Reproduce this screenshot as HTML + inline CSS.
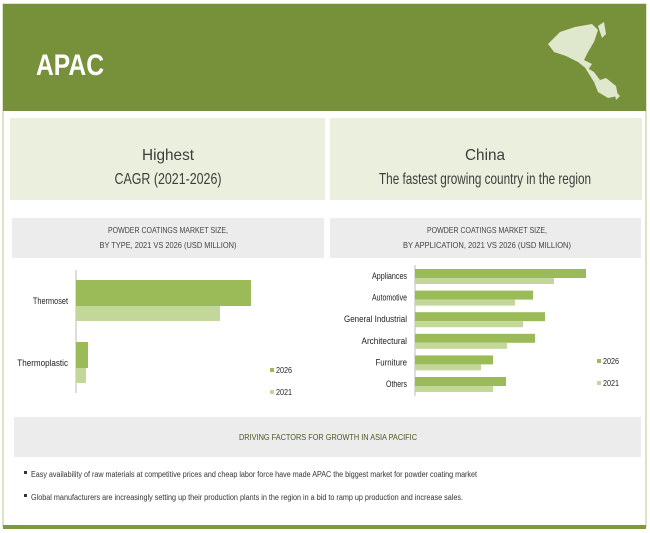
<!DOCTYPE html>
<html><head><meta charset="utf-8"><style>
body{margin:0;background:#fff;}
svg{display:block;font-family:"Liberation Sans",sans-serif;}
</style></head><body>
<svg id="s" width="650" height="533" viewBox="0 0 650 533">
<rect x="3" y="4" width="643" height="523" fill="#fff" stroke="#b8c98f" stroke-width="1"/>
<rect x="3" y="525" width="643" height="4" fill="#7d9a3e"/>
<rect x="3" y="4" width="643" height="107" fill="#77903a"/>
<text x="36" y="75" font-size="30" font-weight="bold" fill="#fff" textLength="68" lengthAdjust="spacingAndGlyphs">APAC</text>
<g fill="#dfe7cc">
<path d="M548 44 L560 32 L575 27 L592 24 L598 30 L594 42 L588 52 L584 60 L592 64 L588 70 L578 62 L566 56 L554 52 Z"/>
<path d="M584 66 L594 72 L600 80 L594 82 Z"/>
<path d="M594 82 L606 78 L616 86 L618 96 L608 98 L598 92 Z"/>
<path d="M614 90 L620 96 L616 100 Z"/>
<path d="M598 26 L604 22 L606 34 L602 38 Z"/>
</g>
<rect x="10" y="118" width="315" height="82" fill="#ebf0de"/>
<rect x="330" y="118" width="312" height="82" fill="#ebf0de"/>
<g font-size="16" fill="#3c3c3c" text-anchor="middle">
<text x="168" y="160" textLength="52" lengthAdjust="spacingAndGlyphs">Highest</text>
<text x="168" y="184" textLength="107" lengthAdjust="spacingAndGlyphs">CAGR (2021-2026)</text>
<text x="485" y="160" textLength="40" lengthAdjust="spacingAndGlyphs">China</text>
<text x="485" y="184" textLength="212" lengthAdjust="spacingAndGlyphs">The fastest growing country in the region</text>
</g>
<rect x="12" y="218" width="312" height="40" fill="#ececec"/>
<rect x="330" y="218" width="311" height="40" fill="#ececec"/>
<g font-size="8" fill="#444" text-anchor="middle">
<text x="168" y="233" textLength="120" lengthAdjust="spacingAndGlyphs">POWDER COATINGS MARKET SIZE,</text>
<text x="168" y="248" textLength="137" lengthAdjust="spacingAndGlyphs">BY TYPE, 2021 VS 2026 (USD MILLION)</text>
<text x="487" y="233" textLength="120" lengthAdjust="spacingAndGlyphs">POWDER COATINGS MARKET SIZE,</text>
<text x="487" y="248" textLength="168" lengthAdjust="spacingAndGlyphs">BY APPLICATION, 2021 VS 2026 (USD MILLION)</text>
</g>
<g id="c1"></g><g id="c2"></g>
<rect x="14" y="417" width="627" height="40" fill="#ececec"/>
<text x="328" y="440" font-size="8" fill="#4a5a20" text-anchor="middle" textLength="178" lengthAdjust="spacingAndGlyphs">DRIVING FACTORS FOR GROWTH IN ASIA PACIFIC</text>
<g font-size="8" fill="#333">
<rect x="24" y="471" width="3" height="3" fill="#333"/>
<text x="31" y="477" textLength="446" lengthAdjust="spacingAndGlyphs">Easy availability of raw materials at competitive prices and cheap labor force have made APAC the biggest market for powder coating market</text>
<rect x="24" y="494" width="3" height="3" fill="#333"/>
<text x="31" y="500" textLength="432" lengthAdjust="spacingAndGlyphs">Global manufacturers are increasingly setting up their production plants in the region in a bid to ramp up production and increase sales.</text>
</g>
</svg>
<script>
const typeCats=["Thermoset","Thermoplastic"];
const type2026=[175,12];
const type2021=[144,10];
const appCats=["Appliances","Automotive","General Industrial","Architectural","Furniture","Others"];
const app2026=[171,118,130,120,78,91];
const app2021=[139,100,108,92,66,78];
const NS="http://www.w3.org/2000/svg";
const C26="#9bbb59",C21="#c4d79b";
function mk(p,t,a){const e=document.createElementNS(NS,t);for(const k in a)e.setAttribute(k,a[k]);p.appendChild(e);return e;}
const g1=document.getElementById('c1');
const x1=v=>76+v, y1=i=>280+i*62;
const ax1=mk(g1,'line',{x1:76,x2:76,y1:270,y2:393,stroke:'#bbb'});


typeCats.forEach((c,i)=>{
 const b=mk(g1,'rect',{x:76,y:y1(i),width:x1(type2026[i])-76,height:26,fill:C26});
 
 
 const b2=mk(g1,'rect',{x:76,y:y1(i)+26,width:x1(type2021[i])-76,height:15,fill:C21});
 
 
 const t=mk(g1,'text',{x:68,y:y1(i)+24,'font-size':9,'text-anchor':'end',fill:'#222',textLength:c.length*3.9,lengthAdjust:'spacingAndGlyphs'});
 t.textContent=c;
 
 
});
const g2=document.getElementById('c2');
const x2=v=>415+v, y2=i=>269+i*21.6;
const ax2=mk(g2,'line',{x1:415,x2:415,y1:265,y2:396,stroke:'#bbb'});


appCats.forEach((c,i)=>{
 const b=mk(g2,'rect',{x:415,y:y2(i),width:x2(app2026[i])-415,height:9,fill:C26});
 
 
 const b2=mk(g2,'rect',{x:415,y:y2(i)+9,width:x2(app2021[i])-415,height:6,fill:C21});
 
 
 const t=mk(g2,'text',{x:407,y:y2(i)+10,'font-size':9,'text-anchor':'end',fill:'#222',textLength:c.length*3.5,lengthAdjust:'spacingAndGlyphs'});
 t.textContent=c;
 
 
});
[[g1,270,373,395],[g2,597,364,386]].forEach(([g,x,ya,yb])=>{
 [[ya,C26,'2026'],[yb,C21,'2021']].forEach(([y,col,l])=>{
  const r=mk(g,'rect',{x:x,y:y-5,width:4,height:4,fill:col});
  
  
  const t=mk(g,'text',{x:x+6,y:y,'font-size':8,fill:'#222',textLength:16,lengthAdjust:'spacingAndGlyphs'});
  t.textContent=l;
  
  
 });
});
</script>
</body></html>
